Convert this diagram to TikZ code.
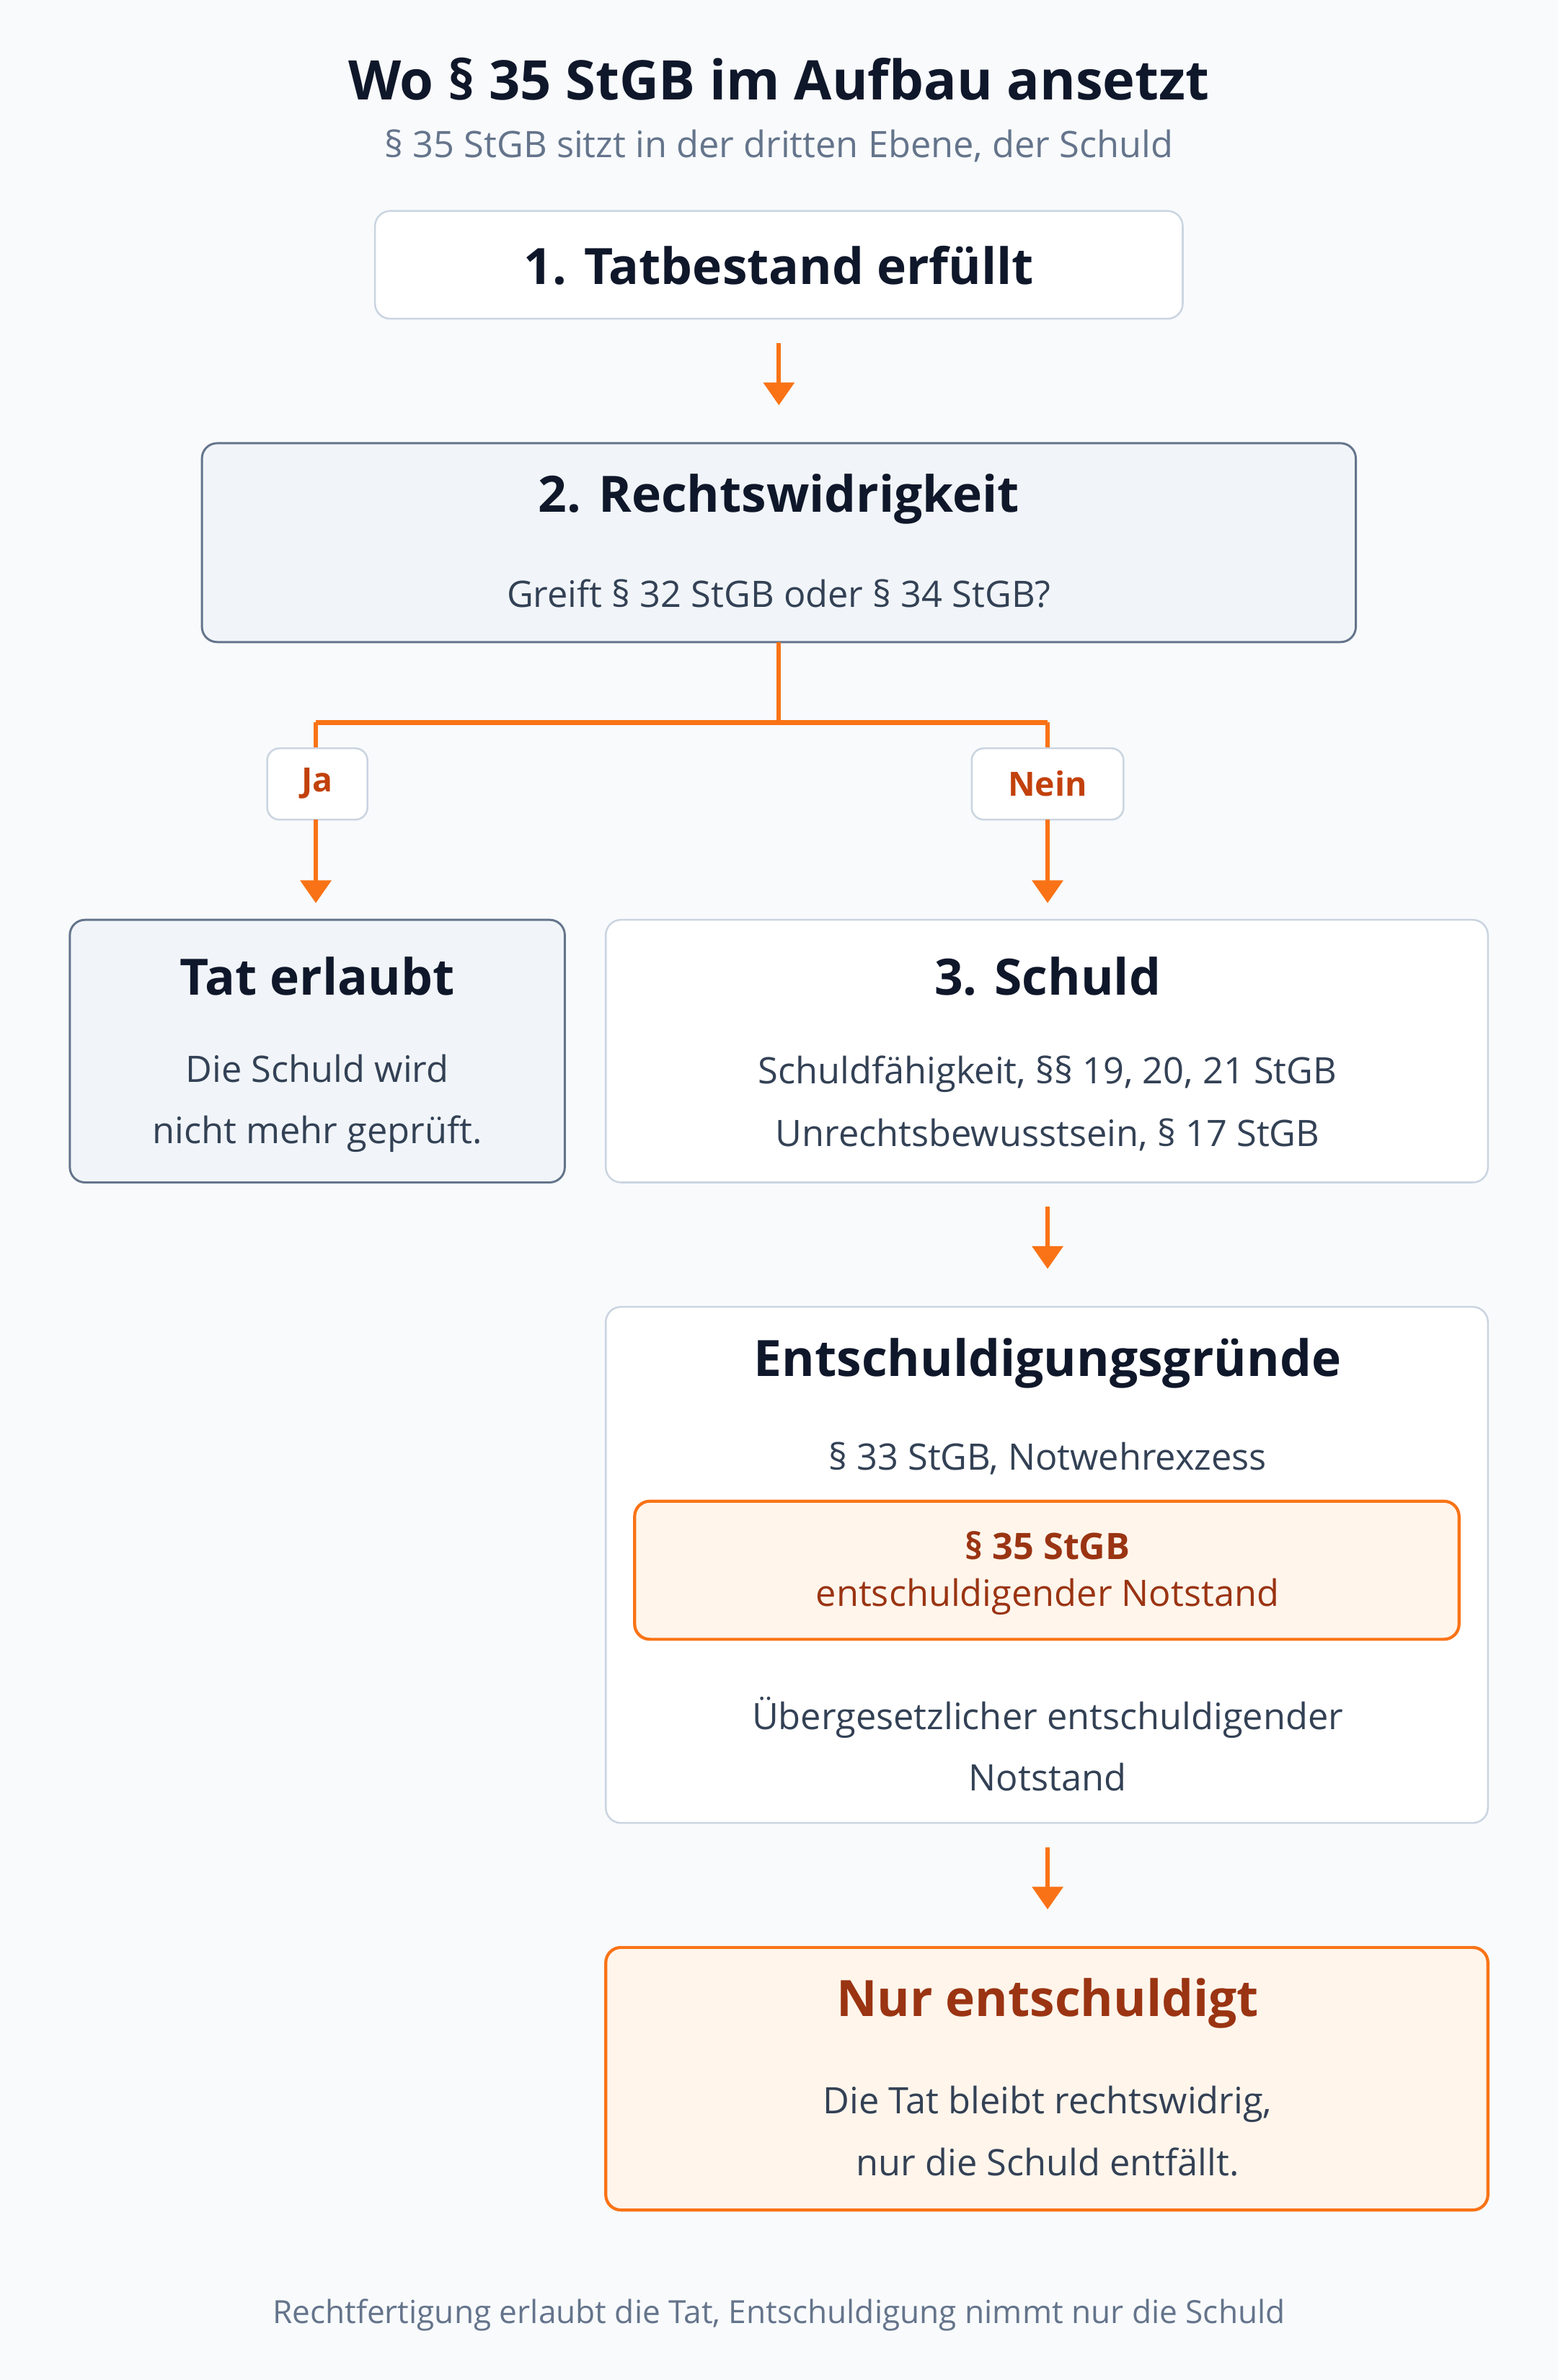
\documentclass[tikz,border=0pt]{standalone}
\usepackage{fontspec}
\setmainfont{Open Sans}
\usetikzlibrary{arrows.meta, positioning}
\definecolor{bgc}{HTML}{F8FAFC}
\definecolor{ink}{HTML}{0F172A}
\definecolor{txt}{HTML}{334155}
\definecolor{mut}{HTML}{64748B}
\definecolor{lin}{HTML}{CBD5E1}
\definecolor{slate}{HTML}{64748B}
\definecolor{pale}{HTML}{F1F5F9}
\definecolor{org}{HTML}{F97316}
\definecolor{peach}{HTML}{FFF5EB}
\definecolor{rust}{HTML}{9A3412}
\definecolor{redb}{HTML}{C2410C}
\newcommand{\fsz}[1]{\fontsize{#1}{#1}\selectfont}
\begin{document}
\begin{tikzpicture}[x=1pt,y=-1pt,
  box/.style={draw=lin, fill=white, rounded corners=10pt, line width=1.2pt},
  greybox/.style={draw=slate, fill=pale, rounded corners=10pt, line width=1.4pt},
  hotbox/.style={draw=org, fill=peach, rounded corners=10pt, line width=2pt},
  tag/.style={draw=lin, fill=white, rounded corners=8pt, line width=1.2pt},
  head/.style={font=\fsz{33}\bfseries, text=ink},
  body/.style={font=\fsz{24}, text=txt},
  flow/.style={draw=org, line width=3pt, -{Triangle[length=15pt,width=20pt]}},
  link/.style={draw=org, line width=3pt}]
  \fill[bgc] (0,0) rectangle (1026,1568);
  \useasboundingbox (0,0) rectangle (1026,1568);
  % title
  \node[font=\fsz{36}\bfseries, text=ink] (title) at (513,52) {Wo § 35 StGB im Aufbau ansetzt};
  \node[font=\fsz{24}, text=mut] (sub) at (513,96) {§ 35 StGB sitzt in der dritten Ebene, der Schuld};
  % boxes
  \draw[box] (247,139) rectangle (779,210);
  \node[head] (tb) at (513,175) {1. Tatbestand erfüllt};
  \draw[greybox] (133,292) rectangle (893,423);
  \node[head] (rw) at (513,329) {2. Rechtswidrigkeit};
  \node[body] (rwq) at (513,391) {Greift § 32 StGB oder § 34 StGB?};
  \draw[greybox] (46,606) rectangle (372,779);
  \node[head] (te) at (209,643) {Tat erlaubt};
  \node[body, align=center] (tet) at (209,727) {Die Schuld wird\\[16pt]nicht mehr geprüft.};
  \draw[box] (399,606) rectangle (980,779);
  \node[head] (sc) at (690,643) {3. Schuld};
  \node[body, align=center] (sct) at (690,727) {Schuldfähigkeit, §§ 19, 20, 21 StGB\\[16pt]Unrechtsbewusstsein, § 17 StGB};
  \draw[box] (399,861) rectangle (980,1201);
  \node[head] (eg) at (690,898) {Entschuldigungsgründe};
  \node[body] (eg1) at (690,961) {§ 33 StGB, Notwehrexzess};
  \draw[hotbox] (418,989) rectangle (961,1080);
  \node[font=\fsz{24}\bfseries, text=rust] (eg2) at (690,1018) {§ 35 StGB};
  \node[font=\fsz{24}, text=rust] (eg3) at (690,1052) {entschuldigender Notstand};
  \node[body, align=center] (eg4) at (690,1149) {Übergesetzlicher entschuldigender\\[16pt]Notstand};
  \draw[hotbox] (399,1283) rectangle (980,1456);
  \node[font=\fsz{33}\bfseries, text=rust] (ne) at (690,1320) {Nur entschuldigt};
  \node[body, align=center] (net) at (690,1404) {Die Tat bleibt rechtswidrig,\\[16pt]nur die Schuld entfällt.};
  % branch
  \coordinate (fork) at (513,476);
  \coordinate (fl) at (208,476);
  \coordinate (fr) at (690,476);
  \draw[link] (513,423) -- (fork);
  \draw[link] (fl) -- (fr);
  \draw[link] (fl) -- (208,493);
  \draw[link] (fr) -- (690,493);
  \draw[tag] (176,493) rectangle (242,540);
  \node[font=\fsz{22}\bfseries, text=redb] (ja) at (209,516) {Ja};
  \draw[tag] (640,493) rectangle (740,540);
  \node[font=\fsz{22}\bfseries, text=redb] (nein) at (690,516) {Nein};
  \draw[flow] (208,540) -- (208,595);
  \draw[flow] (690,540) -- (690,595);
  \draw[flow] (513,226) -- (513,267);
  \draw[flow] (690,795) -- (690,836);
  \draw[flow] (690,1217) -- (690,1258);
  % footer
  \node[font=\fsz{21}, text=mut] (foot) at (513,1525) {Rechtfertigung erlaubt die Tat, Entschuldigung nimmt nur die Schuld};
\end{tikzpicture}
\end{document}
